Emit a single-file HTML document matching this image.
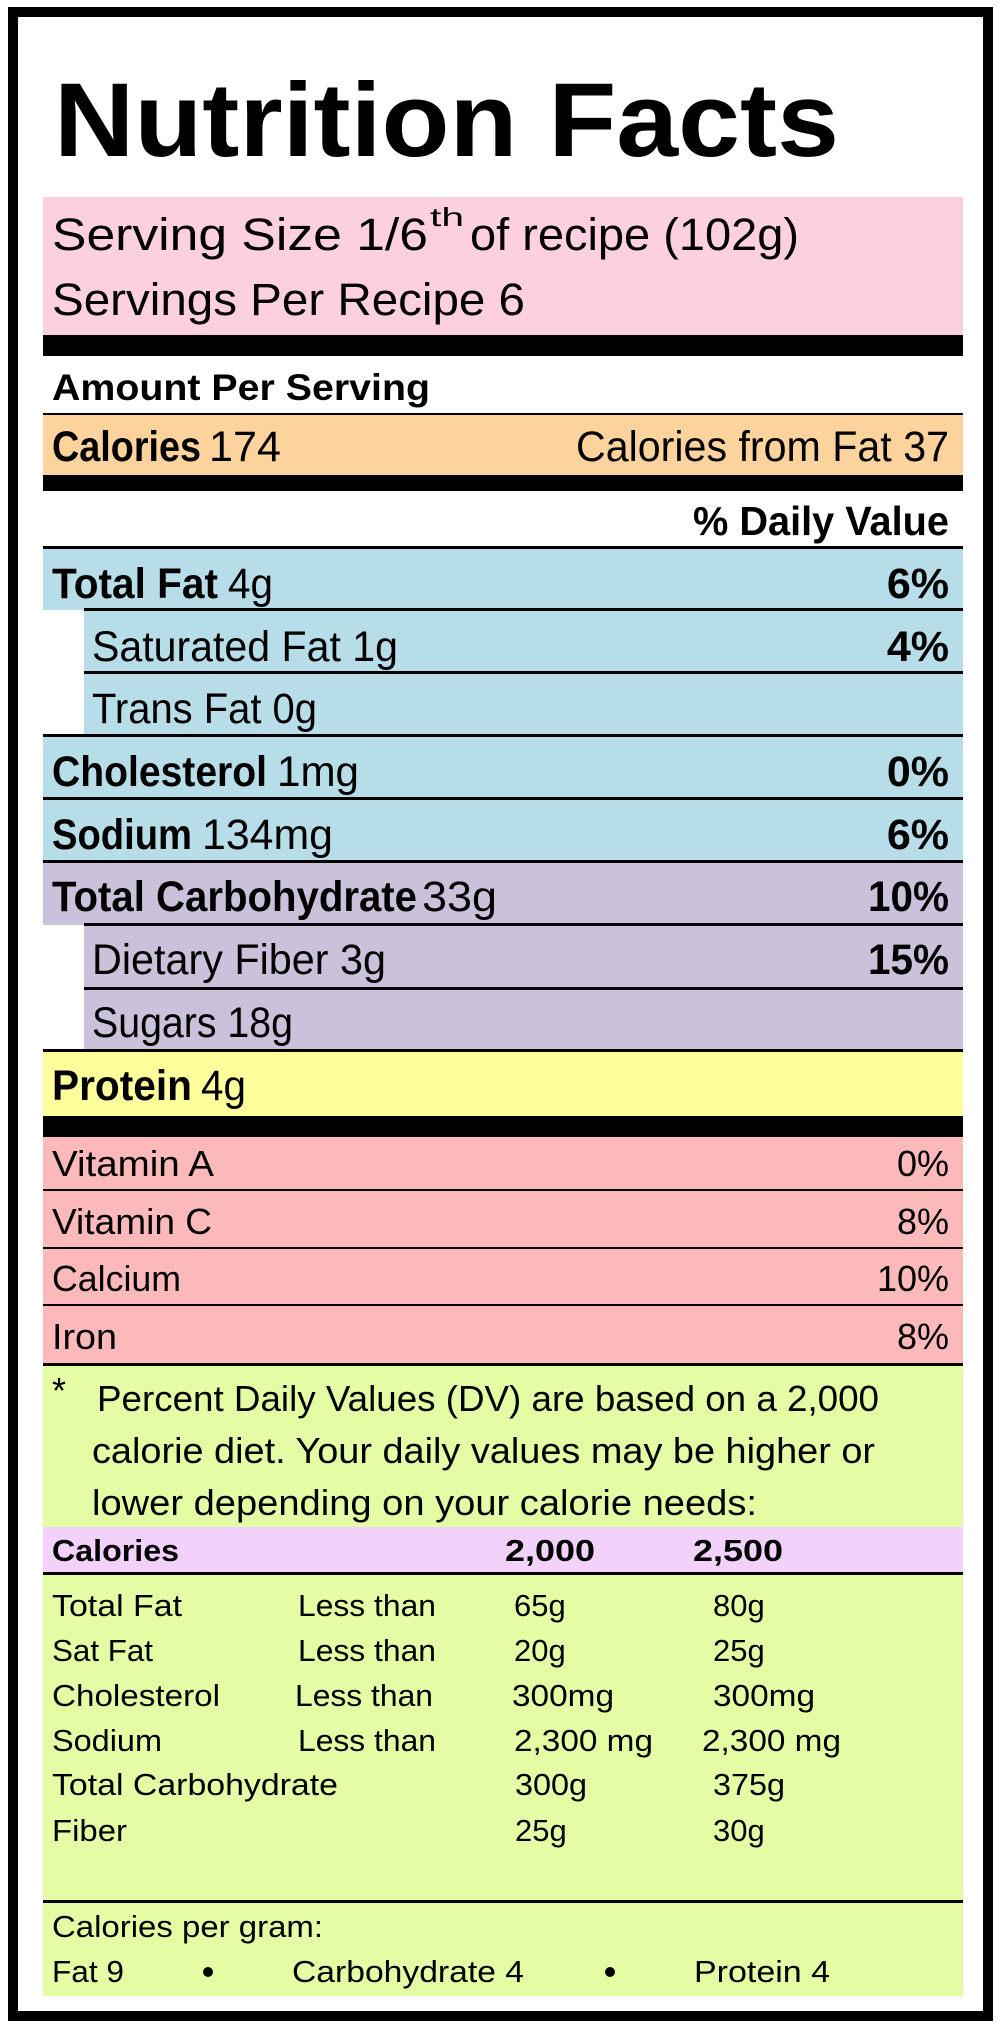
<!DOCTYPE html>
<html><head><meta charset="utf-8"><style>
html,body{margin:0;padding:0;background:#fff;}
svg{display:block;}
text{font-family:"Liberation Sans",sans-serif;fill:#000;}
.b{font-weight:bold;}
</style></head><body>
<svg width="1001" height="2029" viewBox="0 0 1001 2029" xmlns="http://www.w3.org/2000/svg">
<rect x="0" y="0" width="1001" height="2029" fill="#fff"/>
<rect x="13" y="12" width="975" height="2004" fill="none" stroke="#000" stroke-width="10"/>
<text x="54" y="156" class="b" font-size="105" textLength="785" lengthAdjust="spacingAndGlyphs">Nutrition Facts</text>
<!-- pink -->
<rect x="43" y="197" width="920" height="138" fill="#fdd0e1"/>
<text x="52" y="250" font-size="45" textLength="376" lengthAdjust="spacingAndGlyphs">Serving Size 1/6</text>
<text x="430" y="226" font-size="26" textLength="34" lengthAdjust="spacingAndGlyphs">th</text>
<text x="470" y="250" font-size="45" textLength="329" lengthAdjust="spacingAndGlyphs">of recipe (102g)</text>
<text x="52" y="315" font-size="45" textLength="473" lengthAdjust="spacingAndGlyphs">Servings Per Recipe 6</text>
<rect x="43" y="335" width="920" height="21" fill="#000"/>
<text x="52" y="400" class="b" font-size="37" textLength="378" lengthAdjust="spacingAndGlyphs">Amount Per Serving</text>
<rect x="43" y="413" width="920" height="2" fill="#000"/>
<rect x="43" y="415" width="920" height="60" fill="#fcd39c"/>
<text x="52" y="461" class="b" font-size="43" textLength="149" lengthAdjust="spacingAndGlyphs">Calories</text>
<text x="209" y="461" font-size="43" textLength="72" lengthAdjust="spacingAndGlyphs">174</text>
<text x="576" y="461" font-size="43" textLength="373" lengthAdjust="spacingAndGlyphs">Calories from Fat 37</text>
<rect x="43" y="475" width="920" height="16" fill="#000"/>
<text x="693" y="535" class="b" font-size="41" textLength="256" lengthAdjust="spacingAndGlyphs">% Daily Value</text>
<rect x="43" y="546" width="920" height="3" fill="#000"/>
<!-- blue -->
<rect x="43" y="549" width="920" height="61" fill="#b7dde8"/>
<rect x="84" y="610" width="879" height="126" fill="#b7dde8"/>
<rect x="43" y="736" width="920" height="126" fill="#b7dde8"/>
<!-- purple -->
<rect x="43" y="862" width="920" height="63" fill="#ccc1da"/>
<rect x="84" y="925" width="879" height="126" fill="#ccc1da"/>
<!-- yellow -->
<rect x="43" y="1051" width="920" height="65" fill="#ffff9b"/>
<!-- lines -->
<rect x="84" y="608" width="879" height="3" fill="#000"/>
<rect x="84" y="671" width="879" height="3" fill="#000"/>
<rect x="43" y="734" width="920" height="3" fill="#000"/>
<rect x="43" y="797" width="920" height="3" fill="#000"/>
<rect x="43" y="860" width="920" height="3" fill="#000"/>
<rect x="84" y="923" width="879" height="3" fill="#000"/>
<rect x="84" y="987" width="879" height="3" fill="#000"/>
<rect x="43" y="1049" width="920" height="3" fill="#000"/>
<g font-size="43">
<text x="52" y="598" class="b" textLength="166" lengthAdjust="spacingAndGlyphs">Total Fat</text>
<text x="228" y="598" textLength="45" lengthAdjust="spacingAndGlyphs">4g</text>
<text x="949" y="598" class="b" text-anchor="end">6%</text>
<text x="92" y="661" textLength="306" lengthAdjust="spacingAndGlyphs">Saturated Fat 1g</text>
<text x="949" y="661" class="b" text-anchor="end">4%</text>
<text x="92" y="723" textLength="225" lengthAdjust="spacingAndGlyphs">Trans Fat 0g</text>
<text x="52" y="786" class="b" textLength="215" lengthAdjust="spacingAndGlyphs">Cholesterol</text>
<text x="277" y="786" textLength="82" lengthAdjust="spacingAndGlyphs">1mg</text>
<text x="949" y="786" class="b" text-anchor="end">0%</text>
<text x="52" y="849" class="b" textLength="140" lengthAdjust="spacingAndGlyphs">Sodium</text>
<text x="202" y="849" textLength="131" lengthAdjust="spacingAndGlyphs">134mg</text>
<text x="949" y="849" class="b" text-anchor="end">6%</text>
<text x="52" y="911" class="b" textLength="365" lengthAdjust="spacingAndGlyphs">Total Carbohydrate</text>
<text x="422" y="911" textLength="75" lengthAdjust="spacingAndGlyphs">33g</text>
<text x="949" y="911" class="b" text-anchor="end" textLength="81" lengthAdjust="spacingAndGlyphs">10%</text>
<text x="92" y="974" textLength="294" lengthAdjust="spacingAndGlyphs">Dietary Fiber 3g</text>
<text x="949" y="974" class="b" text-anchor="end" textLength="81" lengthAdjust="spacingAndGlyphs">15%</text>
<text x="92" y="1037" textLength="201" lengthAdjust="spacingAndGlyphs">Sugars 18g</text>
<text x="52" y="1100" class="b" textLength="140" lengthAdjust="spacingAndGlyphs">Protein</text>
<text x="201" y="1100" textLength="45" lengthAdjust="spacingAndGlyphs">4g</text>
</g>
<rect x="43" y="1116" width="920" height="21" fill="#000"/>
<!-- vitamins -->
<rect x="43" y="1137" width="920" height="228" fill="#fbb9b9"/>
<rect x="43" y="1189" width="920" height="2" fill="#000"/>
<rect x="43" y="1247" width="920" height="2" fill="#000"/>
<rect x="43" y="1304" width="920" height="2" fill="#000"/>
<rect x="43" y="1363" width="920" height="3" fill="#000"/>
<g font-size="36">
<text x="52" y="1176" textLength="162" lengthAdjust="spacingAndGlyphs">Vitamin A</text>
<text x="949" y="1176" text-anchor="end">0%</text>
<text x="52" y="1234" textLength="160" lengthAdjust="spacingAndGlyphs">Vitamin C</text>
<text x="949" y="1234" text-anchor="end">8%</text>
<text x="52" y="1291" textLength="129" lengthAdjust="spacingAndGlyphs">Calcium</text>
<text x="949" y="1291" text-anchor="end">10%</text>
<text x="52" y="1349" textLength="65" lengthAdjust="spacingAndGlyphs">Iron</text>
<text x="949" y="1349" text-anchor="end">8%</text>
</g>
<!-- green -->
<rect x="43" y="1366" width="920" height="630" fill="#e4fca4"/>
<g font-size="36">
<text x="52" y="1403">*</text>
<text x="97" y="1411" textLength="782" lengthAdjust="spacingAndGlyphs">Percent Daily Values (DV) are based on a 2,000</text>
<text x="92" y="1463" textLength="783" lengthAdjust="spacingAndGlyphs">calorie diet. Your daily values may be higher or</text>
<text x="92" y="1515" textLength="665" lengthAdjust="spacingAndGlyphs">lower depending on your calorie needs:</text>
</g>
<rect x="43" y="1527" width="920" height="46" fill="#f2d1fa"/>
<rect x="43" y="1572" width="920" height="3" fill="#000"/>
<g font-size="31">
<text x="52" y="1561" class="b" textLength="127" lengthAdjust="spacingAndGlyphs">Calories</text>
<text x="505" y="1561" class="b" textLength="90" lengthAdjust="spacingAndGlyphs">2,000</text>
<text x="693" y="1561" class="b" textLength="90" lengthAdjust="spacingAndGlyphs">2,500</text>
<text x="52" y="1616" textLength="130" lengthAdjust="spacingAndGlyphs">Total Fat</text>
<text x="298" y="1616" textLength="138" lengthAdjust="spacingAndGlyphs">Less than</text>
<text x="514" y="1616">65g</text><text x="713" y="1616">80g</text>
<text x="52" y="1661" textLength="101" lengthAdjust="spacingAndGlyphs">Sat Fat</text>
<text x="298" y="1661" textLength="138" lengthAdjust="spacingAndGlyphs">Less than</text>
<text x="514" y="1661">20g</text><text x="713" y="1661">25g</text>
<text x="52" y="1706" textLength="168" lengthAdjust="spacingAndGlyphs">Cholesterol</text>
<text x="295" y="1706" textLength="138" lengthAdjust="spacingAndGlyphs">Less than</text>
<text x="512" y="1706" textLength="102" lengthAdjust="spacingAndGlyphs">300mg</text>
<text x="713" y="1706" textLength="102" lengthAdjust="spacingAndGlyphs">300mg</text>
<text x="52" y="1751" textLength="110" lengthAdjust="spacingAndGlyphs">Sodium</text>
<text x="298" y="1751" textLength="138" lengthAdjust="spacingAndGlyphs">Less than</text>
<text x="514" y="1751" textLength="139" lengthAdjust="spacingAndGlyphs">2,300 mg</text>
<text x="702" y="1751" textLength="139" lengthAdjust="spacingAndGlyphs">2,300 mg</text>
<text x="52" y="1795" textLength="286" lengthAdjust="spacingAndGlyphs">Total Carbohydrate</text>
<text x="515" y="1795" textLength="72" lengthAdjust="spacingAndGlyphs">300g</text>
<text x="713" y="1795" textLength="72" lengthAdjust="spacingAndGlyphs">375g</text>
<text x="52" y="1841" textLength="75" lengthAdjust="spacingAndGlyphs">Fiber</text>
<text x="515" y="1841">25g</text><text x="713" y="1841">30g</text>
</g>
<rect x="43" y="1900" width="920" height="3" fill="#000"/>
<g font-size="31">
<text x="52" y="1937" textLength="271" lengthAdjust="spacingAndGlyphs">Calories per gram:</text>
<text x="52" y="1982" textLength="72" lengthAdjust="spacingAndGlyphs">Fat 9</text>
<circle cx="208" cy="1972" r="5" fill="#000"/>
<text x="292" y="1982" textLength="232" lengthAdjust="spacingAndGlyphs">Carbohydrate 4</text>
<circle cx="610" cy="1972" r="5" fill="#000"/>
<text x="694" y="1982" textLength="136" lengthAdjust="spacingAndGlyphs">Protein 4</text>
</g>
</svg>
</body></html>
